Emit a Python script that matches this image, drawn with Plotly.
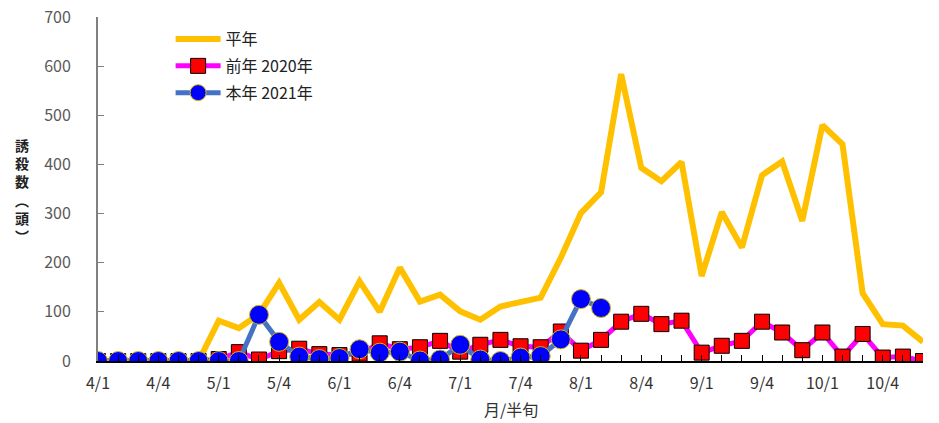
import plotly.graph_objects as go

months = [4, 5, 6, 7, 8, 9, 10]
categories = [f"{m}/{h}" for m in months for h in range(1, 7)]
tick_labels = [c if i % 3 == 0 else "" for i, c in enumerate(categories)]

heinen = [0, 0, 0, 0, 0, 0, 82, 67, 95, 159, 84, 120, 84, 162, 100, 190, 121, 135,
          101, 84, 111, 119, 129, 210, 301, 343, 584, 393, 366, 405, 173, 303, 231,
          378, 406, 285, 480, 441, 138, 75, 72, 39]
zennen_2020 = [0, 0, 0, 0, 0, 0, 4, 18, 3, 20, 25, 14, 12, 15, 36, 24, 28, 41,
               19, 33, 43, 30, 28, 60, 21, 43, 80, 96, 75, 82, 17, 31, 41, 80,
               58, 22, 58, 9, 55, 7, 9, 0]
honnen_2021 = [0, 0, 0, 0, 0, 0, 0, 0, 94, 39, 9, 4, 6, 24, 17, 19, 1, 3, 33, 3,
               0, 7, 10, 44, 126, 108]

FONT = "Noto Sans CJK JP"

fig = go.Figure()
fig.add_trace(go.Scatter(
    x=categories, y=heinen, name="平年", mode="lines", legendgroup="a",
    line=dict(color="#FFC000", width=6),
))
fig.add_trace(go.Scatter(
    x=categories, y=zennen_2020, name="前年 2020年", mode="lines+markers",
    legendgroup="b",
    line=dict(color="#FF00FF", width=5),
    marker=dict(symbol="square", size=15, color="#FF0000",
                line=dict(color="#000000", width=1)),
))
fig.add_trace(go.Scatter(
    x=categories[:len(honnen_2021)], y=honnen_2021, name="本年 2021年",
    mode="lines+markers", legendgroup="c",
    line=dict(color="#4472C4", width=5),
    marker=dict(symbol="circle", size=19, color="#0000FF",
                line=dict(color="#D4B800", width=1)),
))

fig.update_layout(
    width=939, height=423,
    margin=dict(l=98, r=16, t=17, b=62),
    paper_bgcolor="white", plot_bgcolor="white",
    font=dict(family=FONT, size=15, color="#222222"),
    legend=dict(x=0.088, y=0.985, xanchor="left", yanchor="top",
                bgcolor="rgba(0,0,0,0)", font=dict(size=16, color="#222222"),
                itemwidth=45, tracegroupgap=3),
    showlegend=True,
)

fig.update_xaxes(
    type="category", categoryorder="array", categoryarray=categories,
    range=[0, len(categories) - 1], automargin=False,
    tickmode="array", tickvals=categories, ticktext=tick_labels,
    ticks="inside", ticklen=6, tickcolor="#000000", tickwidth=1,
    showline=True, linecolor="#000000", linewidth=1.5,
    showgrid=False, zeroline=False,
    tickfont=dict(family=FONT, size=16, color="#333333"),
    ticklabelstandoff=7, ticklabeloverflow="allow",
)
fig.update_yaxes(
    range=[0, 700], dtick=100, tick0=0, automargin=False,
    ticks="inside", ticklen=6, tickcolor="#808080", tickwidth=1,
    showline=True, linecolor="#808080", linewidth=2,
    showgrid=False, zeroline=False,
    tickfont=dict(family=FONT, size=16, color="#595959"),
    ticklabelstandoff=22, ticklabeloverflow="allow",
)

# x-axis title
fig.add_annotation(
    text="月/半旬", xref="paper", yref="paper",
    x=0.5, y=(361 - 409) / 344, xanchor="center", yanchor="middle",
    showarrow=False, font=dict(family=FONT, size=16, color="#333333"),
)

# vertical y-axis title
fig.add_annotation(
    text="<b>誘<br>殺<br>数<br>︵<br>頭<br>︶</b>", xref="paper", yref="paper",
    x=(22 - 98) / 825, y=(361 - 190) / 344,
    xanchor="center", yanchor="middle", showarrow=False, align="center",
    font=dict(family=FONT, size=14, color="#222222"),
)

fig.write_html(
    "out.html",
    config={"displayModeBar": False},
    post_script="document.body.style.margin='0';document.body.style.overflow='hidden';",
)
